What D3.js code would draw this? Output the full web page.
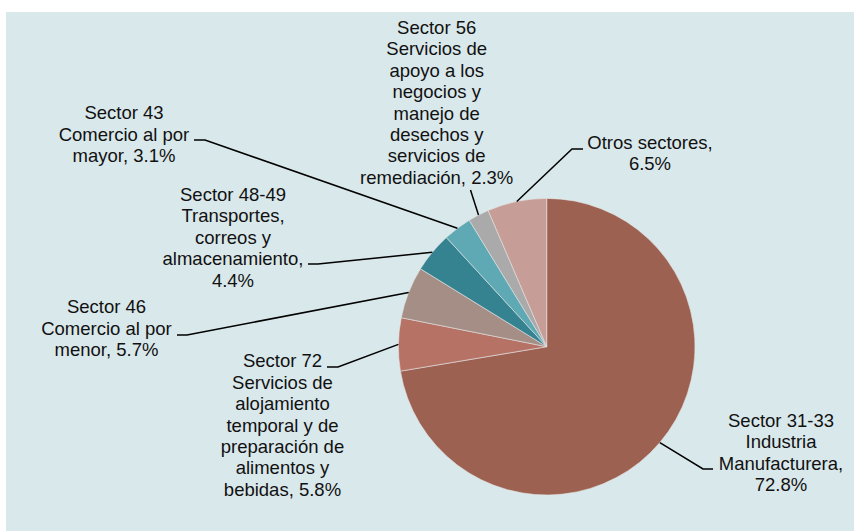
<!DOCTYPE html>
<html>
<head>
<meta charset="utf-8">
<script src="https://cdn.jsdelivr.net/npm/d3@7"></script>
<style>
  html, body { margin: 0; padding: 0; background: #ffffff; }
  svg { display: block; }
  text { font-family: "Liberation Sans", Arial, sans-serif; font-size: 18.5px; fill: #111; }
</style>
</head>
<body>
<svg id="chart" width="854" height="531"></svg>
<script>
// ---- Data ----
const categories = [
  "Sector 31-33", "Sector 72", "Sector 46", "Sector 48-49",
  "Sector 43", "Sector 56", "Otros sectores"
];
const values = [72.8, 5.8, 5.7, 4.4, 3.1, 2.3, 6.5];
const labelTexts = [
  ["Sector 31-33", "Industria", "Manufacturera,", "72.8%"],
  ["Sector 72", "Servicios de", "alojamiento", "temporal y de", "preparación de", "alimentos y", "bebidas, 5.8%"],
  ["Sector 46", "Comercio al por", "menor, 5.7%"],
  ["Sector 48-49", "Transportes,", "correos y", "almacenamiento,", "4.4%"],
  ["Sector 43", "Comercio al por", "mayor, 3.1%"],
  ["Sector 56", "Servicios de", "apoyo a los", "negocios y", "manejo de", "desechos y", "servicios de", "remediación, 2.3%"],
  ["Otros sectores,", "6.5%"]
];
const colors = ["#9c6150", "#b57265", "#a58e85", "#358290", "#5ea9b3", "#aaaaaa", "#c79e97"];

// ---- Layout (label placement, like manually positioned labels) ----
const labelPos = [
  { x: 781, y: 427, elbow: [703, 469], end: [713, 469] },
  { x: 282.5, y: 367.3, elbow: [338, 367], end: [327, 367] },
  { x: 106.5, y: 313.3, elbow: [187, 335], end: [177, 335] },
  { x: 233, y: 201, elbow: [318, 264], end: [308, 264] },
  { x: 124, y: 119.3, elbow: [205, 140], end: [194, 140] },
  { x: 436.7, y: 34, elbow: [470.5, 190], end: null },
  { x: 650, y: 149, elbow: [572, 149], end: [583, 149] }
];
const lineHeight = 21.4;

const W = 854, H = 531;
const cx = 546.7, cy = 346.7, R = 148.3;

const svg = d3.select("#chart");
svg.append("rect").attr("x", 6).attr("y", 12).attr("width", W - 6).attr("height", H - 12)
  .attr("fill", "#d9e8eb");

const data = categories.map((c, i) => ({ name: c, value: values[i], color: colors[i], lines: labelTexts[i], pos: labelPos[i] }));

const pie = d3.pie().value(d => d.value).sort(null).startAngle(0).endAngle(2 * Math.PI);
const arcs = pie(data);
const arc = d3.arc().innerRadius(0).outerRadius(R);
const edge = d3.arc().innerRadius(R).outerRadius(R);

const g = svg.append("g").attr("transform", `translate(${cx},${cy})`);
g.selectAll("path.slice").data(arcs).join("path")
  .attr("class", "slice")
  .attr("d", arc)
  .attr("fill", d => d.data.color)
  .attr("stroke", "#e4e4e4")
  .attr("stroke-width", 0.6);

// leader lines
const lines = svg.append("g");
arcs.forEach(a => {
  const c = edge.centroid(a);
  const p0 = [cx + c[0], cy + c[1]];
  const pts = [p0, a.data.pos.elbow];
  if (a.data.pos.end) pts.push(a.data.pos.end);
  lines.append("path")
    .attr("d", d3.line()(pts))
    .attr("fill", "none")
    .attr("stroke", "#000")
    .attr("stroke-width", 1.5);
});

// labels
const labels = svg.append("g");
arcs.forEach(a => {
  const t = labels.append("text")
    .attr("text-anchor", "middle")
    .attr("x", a.data.pos.x)
    .attr("y", a.data.pos.y);
  a.data.lines.forEach((ln, i) => {
    t.append("tspan").attr("x", a.data.pos.x).attr("y", a.data.pos.y + i * lineHeight).text(ln);
  });
});
</script>
</body>
</html>
